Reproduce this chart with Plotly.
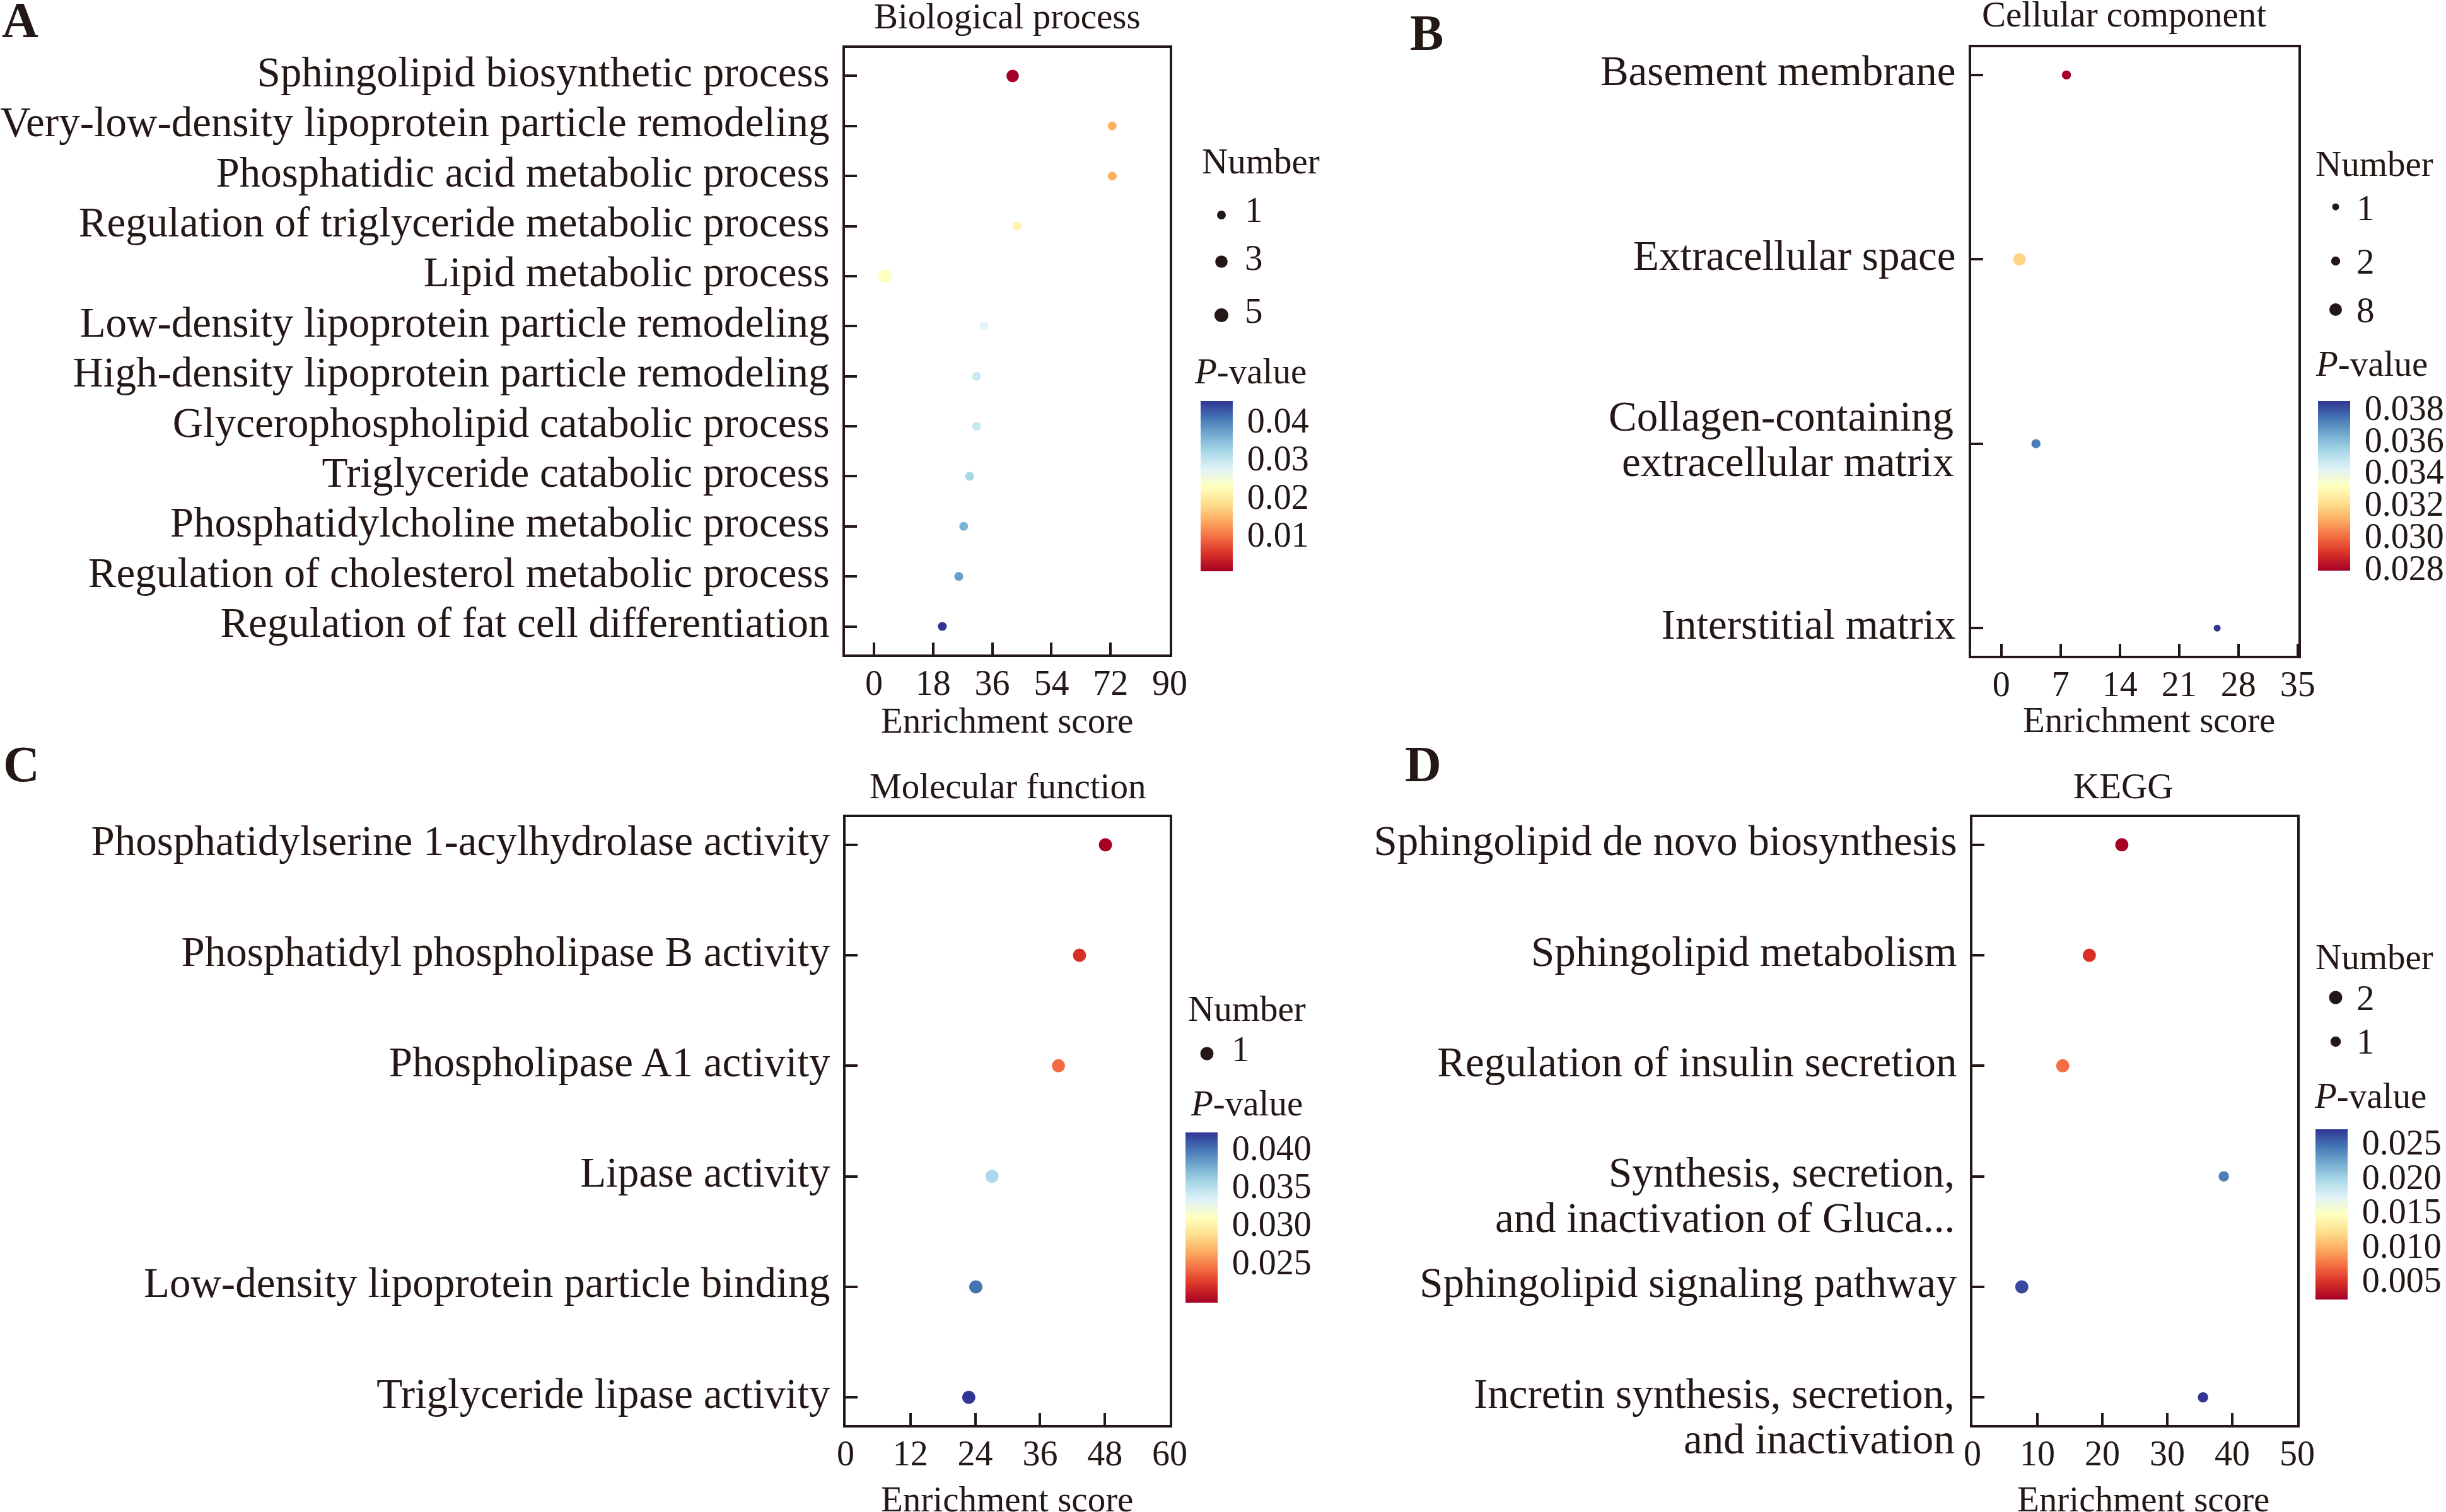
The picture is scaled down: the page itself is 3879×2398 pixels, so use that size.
import plotly.graph_objects as go

W, H = 3879, 2398
FONT = "Liberation Serif"
INK = "#231815"

# ---------------- data ----------------
bp_terms = ["Sphingolipid biosynthetic process",
            "Very-low-density lipoprotein particle remodeling",
            "Phosphatidic acid metabolic process",
            "Regulation of triglyceride metabolic process",
            "Lipid metabolic process",
            "Low-density lipoprotein particle remodeling",
            "High-density lipoprotein particle remodeling",
            "Glycerophospholipid catabolic process",
            "Triglyceride catabolic process",
            "Phosphatidylcholine metabolic process",
            "Regulation of cholesterol metabolic process",
            "Regulation of fat cell differentiation"]
bp_score = [42.2, 72.5, 72.5, 43.5, 3.3, 33.5, 31.2, 31.2, 29.1, 27.3, 25.8, 20.8]
bp_pval = [0.0003, 0.0137, 0.0137, 0.0210, 0.0228, 0.0272, 0.0290, 0.0292, 0.0318, 0.0355, 0.0372, 0.0450]
bp_num = [3, 1, 1, 1, 5, 1, 1, 1, 1, 1, 1, 1]

cc_terms = ["Basement membrane", "Extracellular space",
            "Collagen-containing<br>extracellular matrix", "Interstitial matrix"]
cc_score = [7.7, 2.15, 4.1, 25.5]
cc_pval = [0.0278, 0.0318, 0.0372, 0.0384]
cc_num = [2, 8, 2, 1]

mf_terms = ["Phosphatidylserine 1-acylhydrolase activity",
            "Phosphatidyl phospholipase B activity",
            "Phospholipase A1 activity",
            "Lipase activity",
            "Low-density lipoprotein particle binding",
            "Triglyceride lipase activity"]
mf_score = [48.1, 43.3, 39.4, 27.1, 24.1, 22.8]
mf_pval = [0.0196, 0.0218, 0.0240, 0.0353, 0.0398, 0.0420]
mf_num = [1, 1, 1, 1, 1, 1]

kegg_terms = ["Sphingolipid de novo biosynthesis",
              "Sphingolipid metabolism",
              "Regulation of insulin secretion",
              "Synthesis, secretion,<br>and inactivation of Gluca...",
              "Sphingolipid signaling pathway",
              "Incretin synthesis, secretion,<br>and inactivation"]
kegg_score = [23.0, 18.0, 13.9, 38.7, 7.6, 35.5]
kegg_pval = [0.0021, 0.0046, 0.0071, 0.0240, 0.0262, 0.0269]
kegg_num = [2, 2, 2, 1, 2, 1]

bp_xticks = [0, 18, 36, 54, 72, 90]
cc_xticks = [0, 7, 14, 21, 28, 35]
mf_xticks = [0, 12, 24, 36, 48, 60]
kegg_xticks = [0, 10, 20, 30, 40, 50]

bp_cticks = [0.01, 0.02, 0.03, 0.04]
cc_cticks = [0.028, 0.030, 0.032, 0.034, 0.036, 0.038]
mf_cticks = [0.025, 0.030, 0.035, 0.040]
kegg_cticks = [0.005, 0.010, 0.015, 0.020, 0.025]

bp_size_breaks = [1, 3, 5]
cc_size_breaks = [1, 2, 8]
mf_size_breaks = [1]
kegg_size_breaks = [2, 1]


def X(px):
    return px / W


def Y(py):
    return 1 - py / H


def size_map(vals, smin, smax):
    lo, hi = min(vals), max(vals)
    out = []
    for v in vals:
        if hi == lo:
            out.append((smin + smax) / 2)
        else:
            out.append(smin + (smax - smin) * ((v - lo) / (hi - lo)) ** 0.5)
    return out


panels = [
    dict(name="A", title="Biological process", terms=bp_terms, score=bp_score, pval=bp_pval, num=bp_num,
         xticks=bp_xticks, xrange=[-8.83, 90], box=(1340, 1855, 76, 1038), ypad=0.56,
         srange=(14, 22), breaks=bp_size_breaks, cticks=bp_cticks, cfmt="{:.2f}",
         cbar=(1904, 636, 906), title_xy=(1597, 44), xt_xy=(1597, 1161),
         leg=dict(num=(1905, 274), dots=[(1937, 341, 351), (1937, 415, 427), (1937, 500, 511)],
                  lab_x=1973, pv=(1893, 607)), letter=(2, 57), ml=(-22, 50)),
    dict(name="B", title="Cellular component", terms=cc_terms, score=cc_score, pval=cc_pval, num=cc_num,
         xticks=cc_xticks, xrange=[-3.55, 35.1], box=(3126, 3645, 75, 1040), ypad=0.15,
         srange=(11, 20), breaks=cc_size_breaks, cticks=cc_cticks, cfmt="{:.3f}",
         cbar=(3676, 636, 905), title_xy=(3368, 41), xt_xy=(3408, 1160),
         leg=dict(num=(3671, 278), dots=[(3704, 328, 348), (3704, 414, 433), (3704, 491, 510)],
                  lab_x=3736, pv=(3671, 595)), letter=(2235, 77), ml=(-22, 50)),
    dict(name="C", title="Molecular function", terms=mf_terms, score=mf_score, pval=mf_pval, num=mf_num,
         xticks=mf_xticks, xrange=[0, 60], box=(1341, 1855, 1296, 2260), ypad=0.25,
         srange=(21, 21), breaks=mf_size_breaks, cticks=mf_cticks, cfmt="{:.3f}",
         cbar=(1880, 1796, 2066), title_xy=(1598, 1265), xt_xy=(1597, 2396),
         leg=dict(num=(1883, 1618), dots=[(1914, 1671, 1682)], lab_x=1952, pv=(1887, 1768)),
         letter=(4, 1237), ml=(15, 87)),
    dict(name="D", title="KEGG", terms=kegg_terms, score=kegg_score, pval=kegg_pval, num=kegg_num,
         xticks=kegg_xticks, xrange=[0, 50], box=(3128, 3643, 1296, 2260), ypad=0.25,
         srange=(16.5, 21), breaks=kegg_size_breaks, cticks=kegg_cticks, cfmt="{:.3f}",
         cbar=(3672, 1791, 2061), title_xy=(3367, 1265), xt_xy=(3399, 2396),
         leg=dict(num=(3671, 1536), dots=[(3704, 1582, 1601), (3704, 1652, 1670)],
                  lab_x=3736, pv=(3669, 1756)), letter=(2227, 1237), ml=(15, 87)),
]

fig = go.Figure()
annotations = []
shapes = []

TICK_FS = 67
SMALL_FS = 57
DESC = 0.25
LABEL_GAP = 27


def text_at(x, baseline, txt, fs, anchor="left", bold=False):
    if bold:
        txt = "<b>" + txt + "</b>"
    annotations.append(dict(x=X(x), y=Y(baseline + DESC * fs), xref="paper", yref="paper",
                            xanchor=anchor, yanchor="bottom", text=txt, showarrow=False,
                            font=dict(family=FONT, size=fs, color=INK), borderpad=0))


for i, p in enumerate(panels, start=1):
    n = len(p["terms"])
    xa = "x" if i == 1 else f"x{i}"
    ya = "y" if i == 1 else f"y{i}"
    l, r, t, b = p["box"]
    cb_l, cb_t, cb_b = p["cbar"]
    smin, smax = p["srange"]
    allnums = p["num"]
    sizes = size_map(allnums, smin, smax)
    fig.add_trace(go.Scatter(
        x=p["score"], y=list(range(n)), mode="markers", xaxis=xa, yaxis=ya,
        showlegend=False,
        marker=dict(size=sizes, color=p["pval"], colorscale="RdYlBu",
                    cmin=min(p["pval"]), cmax=max(p["pval"]), line=dict(width=0), opacity=1,
                    colorbar=dict(x=X(cb_l), xanchor="left", xpad=0,
                                  y=Y((cb_t + cb_b) / 2), yanchor="middle", ypad=0,
                                  len=cb_b - cb_t, lenmode="pixels",
                                  thickness=51, thicknessmode="pixels", outlinewidth=0,
                                  tickvals=p["cticks"], ticktext=[p["cfmt"].format(v) for v in p["cticks"]],
                                  ticks="outside", ticklen=12, tickcolor="rgba(0,0,0,0)",
                                  tickfont=dict(family=FONT, size=56, color=INK)))))
    # single-line labels on the axis; wrapped labels drawn line by line (tighter leading)
    ticktext = []
    for k, term in enumerate(p["terms"]):
        if "<br>" in term:
            ticktext.append("")
            for line, off in zip(term.split("<br>"), p["ml"]):
                annotations.append(dict(
                    x=0, xref=f"{xa} domain", y=k, yref=ya, xanchor="right", yanchor="bottom",
                    xshift=-LABEL_GAP, yshift=-(off + DESC * TICK_FS), text=line, showarrow=False,
                    font=dict(family=FONT, size=TICK_FS, color=INK), borderpad=0))
        else:
            ticktext.append(term)
    axis_common = dict(showline=True, mirror=True, linewidth=4, linecolor=INK,
                       ticks="inside", ticklen=19, tickwidth=4, tickcolor=INK,
                       showgrid=False, zeroline=False, fixedrange=True, automargin=False)
    fig.update_layout(**{
        ("xaxis" if i == 1 else f"xaxis{i}"): dict(
            domain=[X(l), X(r)], range=p["xrange"], tickmode="array", tickvals=p["xticks"],
            ticktext=[str(v) for v in p["xticks"]], anchor=ya,
            tickfont=dict(family=FONT, size=56, color=INK), ticklabelstandoff=-7, **axis_common),
        ("yaxis" if i == 1 else f"yaxis{i}"): dict(
            domain=[Y(b), Y(t)], range=[n - 1 + p["ypad"], -p["ypad"]], tickmode="array",
            tickvals=list(range(n)), ticktext=ticktext, anchor=xa,
            tickfont=dict(family=FONT, size=TICK_FS, color=INK), ticklabelstandoff=7,
            ticklabelshift=7, **axis_common),
    })
    # titles
    text_at(p["title_xy"][0], p["title_xy"][1], p["title"], SMALL_FS, anchor="center")
    text_at(p["xt_xy"][0], p["xt_xy"][1], "Enrichment score", SMALL_FS, anchor="center")
    text_at(p["letter"][0], p["letter"][1], p["name"], 80, anchor="left", bold=True)
    # size legend
    lg = p["leg"]
    text_at(lg["num"][0], lg["num"][1], "Number", SMALL_FS)
    leg_sizes = size_map(allnums + p["breaks"], smin, smax)[len(allnums):]
    for (dx, dy, base), br, d in zip(lg["dots"], p["breaks"], leg_sizes):
        shapes.append(dict(type="circle", xref="paper", yref="paper", xsizemode="pixel",
                           ysizemode="pixel", xanchor=X(dx), yanchor=Y(dy),
                           x0=-d / 2, x1=d / 2, y0=-d / 2, y1=d / 2,
                           fillcolor=INK, line=dict(width=0)))
        text_at(lg["lab_x"], base, str(br), SMALL_FS)
    text_at(lg["pv"][0], lg["pv"][1], "<i>P</i>-value", SMALL_FS)

fig.update_layout(width=W, height=H, margin=dict(l=0, r=0, t=0, b=0, autoexpand=False),
                  paper_bgcolor="white", plot_bgcolor="white",
                  annotations=annotations, shapes=shapes, showlegend=False,
                  font=dict(family=FONT, color=INK))
fig.write_html("out.html", config={"displayModeBar": False},
               post_script="document.body.style.margin='0';")
